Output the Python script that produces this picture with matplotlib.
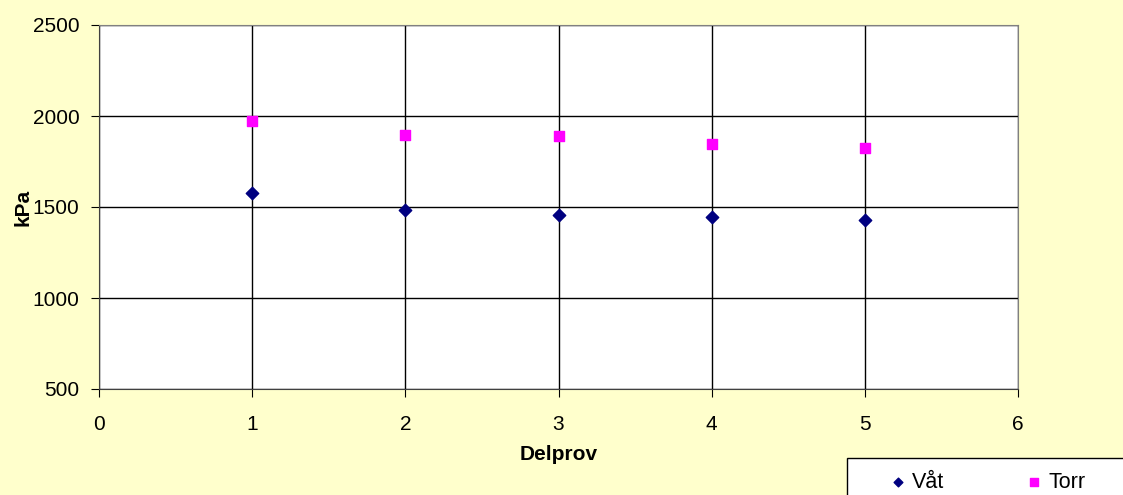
import matplotlib.pyplot as plt
from matplotlib.patches import Rectangle

plt.rcParams['font.family'] = ['Liberation Sans', 'DejaVu Sans']

# data
delprov = [1, 2, 3, 4, 5]
vat = [1577, 1484, 1456, 1445, 1429]
torr = [1973, 1896, 1890, 1846, 1824]

W, H = 1123, 495
fig = plt.figure(figsize=(W / 100, H / 100), dpi=100, facecolor='#FFFFCC')
ax = fig.add_axes([99 / W, 1 - 389 / H, 919 / W, 364 / H])
ax.set_facecolor('white')

ax.scatter(delprov, vat, marker='D', s=40, color='#000080', label='Våt', zorder=3)
ax.scatter(delprov, torr, marker='s', s=60, color='#FF00FF', label='Torr', zorder=3)

ax.set_xlim(0, 6)
ax.set_ylim(500, 2500)
ax.set_xticks(range(0, 7))
ax.set_yticks(range(500, 2501, 500))
ax.grid(True, color='black', linewidth=1)
ax.set_axisbelow(True)
for s in ax.spines.values():
    s.set_color('#808080')
ax.spines['left'].set_color('#404040')
ax.spines['bottom'].set_color('#404040')
ax.tick_params(direction='out', length=6, labelsize=15, color='black')
ax.tick_params(axis='x', pad=13)
ax.tick_params(axis='y', pad=8)

ax.set_xlabel('Delprov', fontsize=15, fontweight='bold', labelpad=8)
ax.set_ylabel('kPa', fontsize=15, fontweight='bold', labelpad=0)

# legend box, partly outside the figure as in the original
box = Rectangle((847 / W, -0.1), 0.4, 0.1 + (H - 458) / H, transform=fig.transFigure,
                facecolor='white', edgecolor='black', linewidth=1, zorder=1)
fig.patches.append(box)

leg = fig.legend(loc='upper left', bbox_to_anchor=(887 / W, 1 - 472 / H), ncol=2,
                 frameon=False, fontsize=15.5,
                 handletextpad=0.15, columnspacing=3.7, markerscale=0.7,
                 borderpad=0, handlelength=1.0, borderaxespad=0)

fig.savefig('out.png', dpi=100, facecolor=fig.get_facecolor())
